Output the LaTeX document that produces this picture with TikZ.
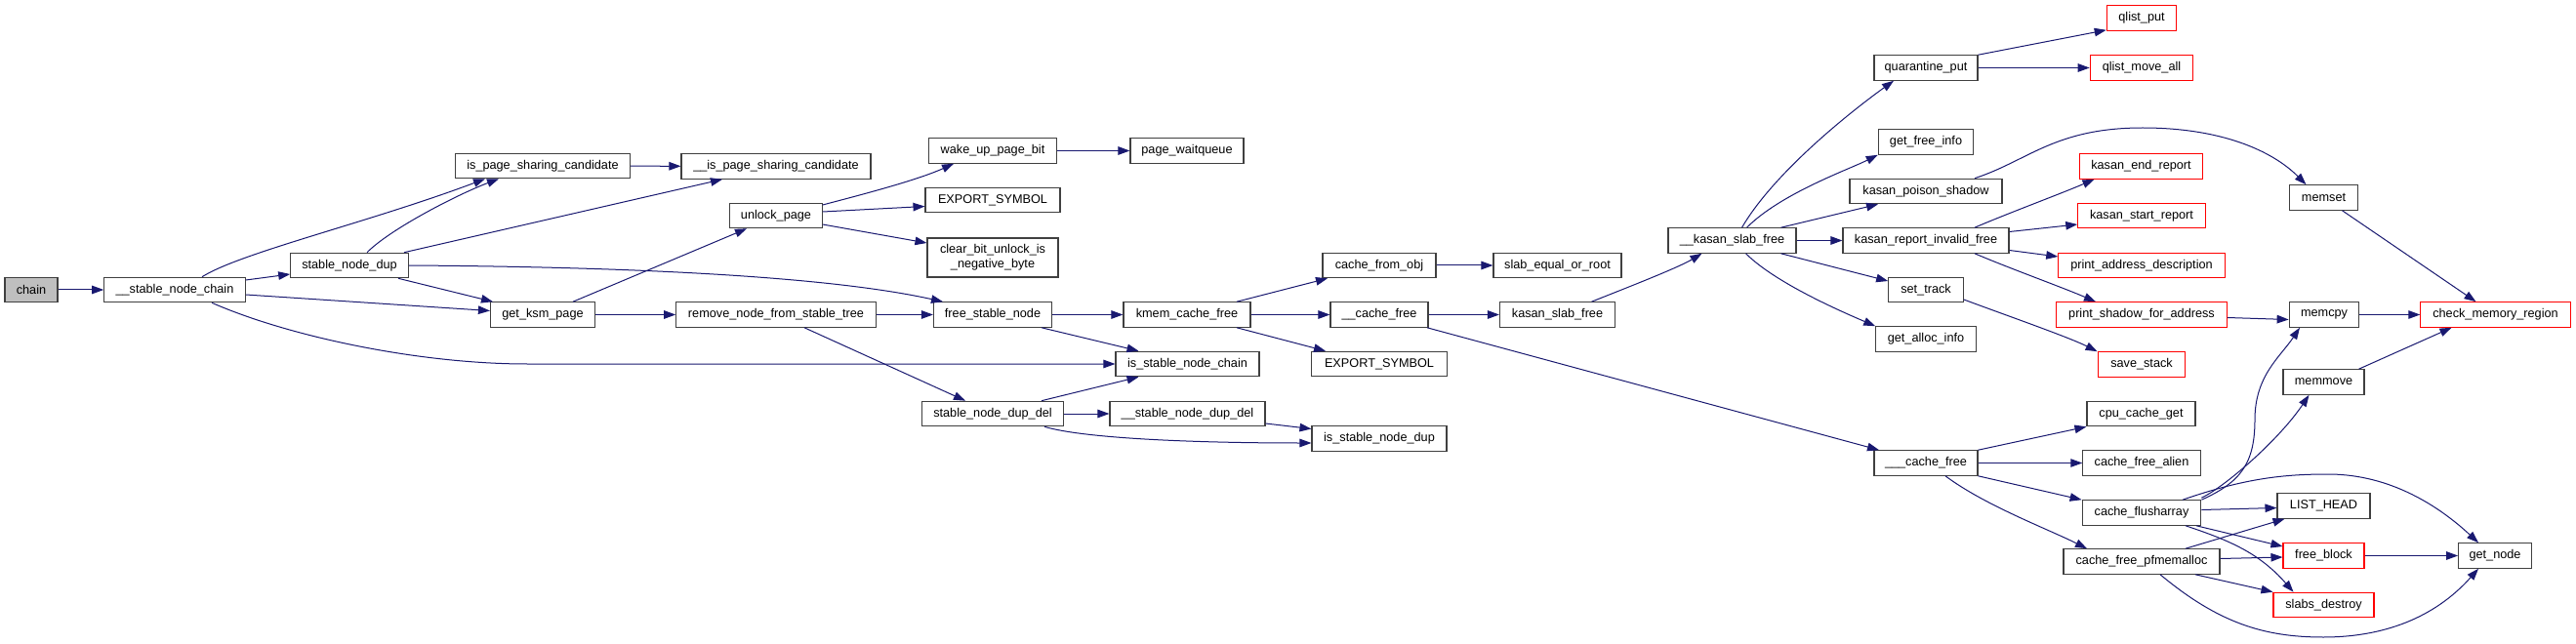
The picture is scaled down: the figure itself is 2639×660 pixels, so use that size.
\documentclass[tikz,border=0pt]{standalone}
\usepackage{fontspec}
\setmainfont{Liberation Sans}
\usetikzlibrary{arrows.meta}
\definecolor{edgec}{HTML}{191970}
\definecolor{boxc}{HTML}{404040}
\definecolor{redc}{HTML}{FF0000}
\definecolor{rootc}{HTML}{BFBFBF}
\newcommand\fnode[5][fn]{\node[#1, minimum width=#4pt] (#2) at (#3) {#5};}
\begin{document}
\begin{tikzpicture}[x=1pt,y=-1pt,
 fn/.style={draw=boxc, line width=1.1pt, fill=white, inner sep=0pt, minimum height=25.5pt, font=\fontsize{12.7}{15}\selectfont, text=black},
 rf/.style={fn, draw=redc},
 edge/.style={draw=edgec, line width=1pt, -{Triangle[length=12pt,width=8.5pt]}}]
\useasboundingbox[fill=white] (0,0) rectangle (2639,660);
\fnode[fn, fill=rootc]{chain}{32,297}{54}{chain}
\fnode{snc}{179,297}{144.5}{\_\_stable\_node\_chain}
\fnode{snd}{358,272}{120.5}{stable\_node\_dup}
\fnode{ipsc}{556,170}{179}{is\_page\_sharing\_candidate}
\fnode{gkp}{556,322.5}{107}{get\_ksm\_page}
\fnode{uipsc}{795,170.5}{194}{\_\_is\_page\_sharing\_candidate}
\fnode{unlock}{795,221}{94.5}{unlock\_page}
\fnode{rnfst}{795,322.5}{204.5}{remove\_node\_from\_stable\_tree}
\fnode{wupb}{1017,154.5}{131.5}{wake\_up\_page\_bit}
\fnode{esa}{1017,205}{138}{EXPORT\_SYMBOL}
\node[fn, minimum width=134pt, minimum height=40pt, align=center] (cbu) at (1017,264) {clear\_bit\_unlock\_is\\\_negative\_byte};
\fnode{fsn}{1017,322.5}{121}{free\_stable\_node}
\fnode{sndd}{1017,424}{145}{stable\_node\_dup\_del}
\fnode{pwq}{1216,154.5}{116}{page\_waitqueue}
\fnode{kcf}{1216,322.5}{130}{kmem\_cache\_free}
\fnode{isnc}{1216.5,373}{147}{is\_stable\_node\_chain}
\fnode{usndd}{1216.5,424}{159}{\_\_stable\_node\_dup\_del}
\fnode{isnd}{1413,449.5}{138}{is\_stable\_node\_dup}
\fnode{cfo}{1413,272}{116}{cache\_from\_obj}
\fnode{ucf}{1413,322.5}{100}{\_\_cache\_free}
\fnode{esb}{1413,373}{139}{EXPORT\_SYMBOL}
\fnode{seor}{1595.5,272}{131}{slab\_equal\_or\_root}
\fnode{ksf}{1595.5,322.5}{118}{kasan\_slab\_free}
\fnode{uksf}{1774.5,246.5}{131}{\_\_kasan\_slab\_free}
\fnode{uucf}{1973,474.5}{106}{\_\_\_cache\_free}
\fnode{qp}{1973,69.5}{106}{quarantine\_put}
\fnode{gfi}{1973,145.5}{97.5}{get\_free\_info}
\fnode{kps}{1973,196}{156}{kasan\_poison\_shadow}
\fnode{krif}{1973,246.5}{170}{kasan\_report\_invalid\_free}
\fnode{st}{1973,297}{76.6}{set\_track}
\fnode{gai}{1973,347.5}{102.5}{get\_alloc\_info}
\fnode[rf]{qlp}{2194,18.5}{71.5}{qlist\_put}
\fnode[rf]{qma}{2194,69.5}{105.5}{qlist\_move\_all}
\fnode[rf]{ker}{2193.5,170.5}{126}{kasan\_end\_report}
\fnode[rf]{ksr}{2194,221}{130.4}{kasan\_start\_report}
\fnode[rf]{pad}{2194,272}{170.4}{print\_address\_description}
\fnode[rf]{psfa}{2194,322.5}{174.4}{print\_shadow\_for\_address}
\fnode[rf]{ss}{2194,373.5}{89.7}{save\_stack}
\fnode{ccg}{2193.5,424}{111}{cpu\_cache\_get}
\fnode{cfa}{2194,474.5}{120.4}{cache\_free\_alien}
\fnode{cfl}{2194,525.5}{121.7}{cache\_flusharray}
\fnode{cfp}{2194,575.5}{160}{cache\_free\_pfmemalloc}
\fnode{mset}{2380.5,202.5}{69.2}{memset}
\fnode{mcpy}{2381,322.5}{71.7}{memcpy}
\fnode{mmove}{2380.5,391.5}{83}{memmove}
\fnode{lh}{2380.5,518.5}{95}{LIST\_HEAD}
\fnode[rf]{fb}{2380.5,569.5}{83}{free\_block}
\fnode[rf]{sd}{2380.5,620}{103}{slabs\_destroy}
\fnode[rf]{cmr}{2556.5,322.5}{153.3}{check\_memory\_region}
\fnode{gn}{2556,569.5}{74.7}{get\_node}

\draw[edge] (chain) -- (snc);
\draw[edge] ([xshift=28pt]snc.north) .. controls +(40,-25) and +(-120,45) .. ([xshift=-59pt]ipsc.south);
\draw[edge] ([yshift=10pt]snc.east) -- ([yshift=-9pt]snd.west);
\draw[edge] ([yshift=-5pt]snc.east) -- ([yshift=4pt]gkp.west);
\draw[edge] ([xshift=38pt]snc.south) .. controls +(80,35) and +(-110,0) .. (540,373) -- (isnc.west);
\draw[edge] ([xshift=18pt]snd.north) .. controls +(25,-25) and +(-40,15) .. ([xshift=-45pt]ipsc.south);
\draw[edge] ([xshift=56pt]snd.north) -- ([xshift=-55pt]uipsc.south);
\draw[edge] (snd.east) .. controls +(300,2) and +(-90,-20) .. ([xshift=-51pt]fsn.north);
\draw[edge] ([xshift=50pt]snd.south) -- ([xshift=-51pt]gkp.north);
\draw[edge] (ipsc) -- (uipsc);
\draw[edge] ([xshift=31pt]gkp.north) -- ([xshift=-30pt]unlock.south);
\draw[edge] (gkp) -- (rnfst);
\draw[edge] ([yshift=11pt]unlock.east) .. controls +(30,-8) and +(-40,18) .. ([xshift=-40pt]wupb.south);
\draw[edge] ([yshift=4pt]unlock.east) -- ([yshift=-6.5pt]esa.west);
\draw[edge] ([yshift=-9pt]unlock.east) -- ([yshift=15pt]cbu.west);
\draw[edge] (wupb) -- (pwq);
\draw[edge] (rnfst) -- (fsn);
\draw[edge] ([xshift=29pt]rnfst.south) -- ([xshift=-28pt]sndd.north);
\draw[edge] (fsn) -- (kcf);
\draw[edge] ([xshift=50pt]fsn.south) -- ([xshift=-50pt]isnc.north);
\draw[edge] ([xshift=50pt]sndd.north) -- ([xshift=-50pt]isnc.south);
\draw[edge] (sndd) -- (usndd);
\draw[edge] ([xshift=53pt]sndd.south) .. controls +(40,12) and +(-120,0) .. ([yshift=-4.5pt]isnd.west);
\draw[edge] ([yshift=-10pt]usndd.east) -- ([yshift=10pt]isnd.west);
\draw[edge] ([xshift=51pt]kcf.north) -- ([xshift=-53pt]cfo.south);
\draw[edge] (kcf) -- (ucf);
\draw[edge] ([xshift=51pt]kcf.south) -- ([xshift=-55pt]esb.north);
\draw[edge] (cfo) -- (seor);
\draw[edge] (ucf) -- (ksf);
\draw[edge] ([xshift=49pt]ucf.south) -- ([xshift=-48pt]uucf.north);
\draw[edge] ([xshift=35pt]ksf.north) .. controls +(30,-12) and +(-25,15) .. ([xshift=-31pt]uksf.south);
\draw[edge] ([xshift=10pt]uksf.north) .. controls +(35,-60) and +(-35,25) .. ([xshift=-33pt]qp.south);
\draw[edge] ([xshift=15pt]uksf.north) .. controls +(35,-35) and +(-30,15) .. (gfi.south west);
\draw[edge] ([xshift=50pt]uksf.north) -- ([xshift=-49pt]kps.south);
\draw[edge] (uksf) -- (krif);
\draw[edge] ([xshift=50pt]uksf.south) -- ([yshift=9pt]st.west);
\draw[edge] ([xshift=14pt]uksf.south) .. controls +(30,30) and +(-35,-15) .. (gai.north west);
\draw[edge] (qp.north east) -- ([yshift=1pt]qlp.south west);
\draw[edge] (qp) -- (qma);
\draw[edge] ([xshift=50pt]kps.north) .. controls +(55,-18) and +(-90,0) .. (2195,131) .. controls +(80,0) and +(-35,-35) .. ([xshift=-18pt]mset.north);
\draw[edge] ([xshift=50pt]krif.north) .. controls +(35,-15) and +(-35,15) .. ([xshift=-48pt]ker.south);
\draw[edge] ([yshift=9pt]krif.east) -- ([yshift=-9pt]ksr.west);
\draw[edge] ([yshift=-10pt]krif.east) -- ([yshift=9pt]pad.west);
\draw[edge] ([xshift=50pt]krif.south) .. controls +(35,15) and +(-35,-15) .. ([xshift=-47pt]psfa.north);
\draw[edge] ([yshift=-10pt]st.east) .. controls +(40,15) and +(-30,-15) .. (ss.north west);
\draw[edge] ([xshift=19pt]mset.south) -- ([xshift=-20pt]cmr.north);
\draw[edge] ([yshift=-3pt]psfa.east) -- ([yshift=-5pt]mcpy.west);
\draw[edge] (mcpy) -- (cmr);
\draw[edge] (uucf.north east) -- (ccg.south west);
\draw[edge] (uucf) -- (cfa);
\draw[edge] (uucf.south east) -- (cfl.north west);
\draw[edge] ([xshift=20pt]uucf.south) .. controls +(40,30) and +(-40,-20) .. ([xshift=-56pt]cfp.north);
\draw[edge] (cfl.north east) .. controls +(40,-18) and +(0,45) .. (2310,430) .. controls +(0,-45) and +(-20,30) .. ([xshift=-25pt]mcpy.south);
\draw[edge] ([yshift=2pt]cfl.north east) .. controls +(25,-12) and +(-30,45) .. ([xshift=-15pt]mmove.south);
\draw[edge] ([xshift=42pt]cfl.north) .. controls (2300,490) and (2340,486) .. (2385,486) .. controls (2450,486) and (2500,520) .. ([xshift=-17pt]gn.north);
\draw[edge] ([yshift=3pt]cfl.east) -- ([yshift=-2pt]lh.west);
\draw[edge] ([xshift=56pt]cfl.south) -- ([yshift=9.5pt]fb.west);
\draw[edge] ([xshift=45pt]cfl.south) .. controls +(45,15) and +(-35,-40) .. ([xshift=-31pt]sd.north);
\draw[edge] ([xshift=45pt]cfp.north) -- ([xshift=-40pt]lh.south);
\draw[edge] ([yshift=3pt]cfp.east) -- ([yshift=-1.5pt]fb.west);
\draw[edge] ([xshift=55pt]cfp.south) -- (sd.north west);
\draw[edge] ([xshift=19pt]cfp.south) .. controls +(60,50) and +(-60,0) .. (2380,653) .. controls +(70,0) and +(-40,45) .. ([xshift=-17pt]gn.south);
\draw[edge] (fb) -- (gn);
\draw[edge] ([xshift=36pt]mmove.north) -- ([xshift=-45pt]cmr.south);
\end{tikzpicture}
\end{document}
